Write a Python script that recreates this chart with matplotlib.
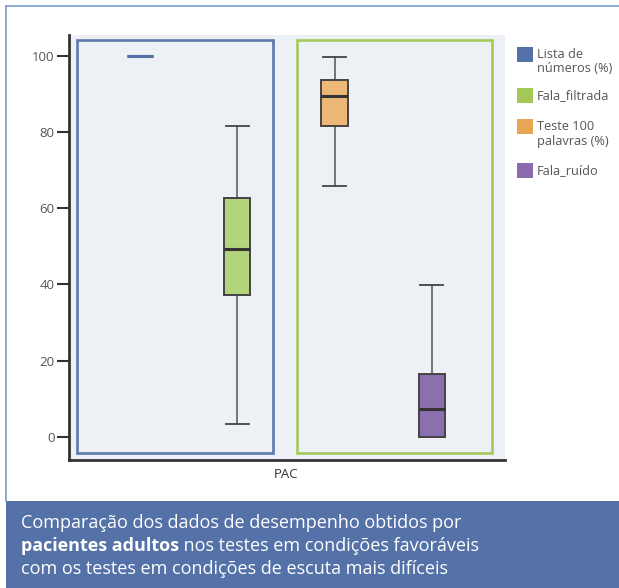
import matplotlib
matplotlib.use("Agg")
import matplotlib.pyplot as plt
from matplotlib.patches import Rectangle

# Series (percent scores)
series = ["Lista de\nnúmeros (%)", "Fala_filtrada", "Teste 100\npalavras (%)", "Fala_ruído"]
whisker_low = [100, 3.3, 65.8, 0]
q1 = [100, 37.3, 81.7, 0]
median = [100, 49.3, 89.4, 7.4]
q3 = [100, 62.6, 93.6, 16.4]
whisker_high = [100, 81.6, 99.8, 39.8]
y_ticks = [0, 20, 40, 60, 80, 100]
group_label = "PAC"
caption_lines = [
    [("Comparação dos dados de desempenho obtidos por", "normal")],
    [("pacientes adultos", "bold"), (" nos testes em condições favoráveis", "normal")],
    [("com os testes em condições de escuta mais difíceis", "normal")],
]

edge_colors = ["#5472a8", "#a3c855", "#e8a553", "#8a6cae"]
fill_colors = ["#5472a8", "#b2d47b", "#edb877", "#8a70ae"]

plt.rcParams["font.family"] = ["Open Sans", "DejaVu Sans"]

W, H = 619, 588
fig = plt.figure(figsize=(W / 100, H / 100), dpi=100)
fig.patch.set_facecolor("white")


def fx(px):
    return px / W


def fy(py):
    return 1 - py / H


# outer frame lines and caption band
fig.add_artist(plt.Line2D([fx(6), fx(619)], [fy(6), fy(6)], color="#7e9bcc", lw=1.2))
fig.add_artist(plt.Line2D([fx(6), fx(6)], [fy(6), fy(501)], color="#7e9bcc", lw=1.2))
fig.add_artist(Rectangle((fx(6), 0), fx(613), fy(501), facecolor="#5472a8",
                         edgecolor="none"))

ax = fig.add_axes([fx(69), fy(460), fx(505 - 69), (460 - 35) / H])
ax.set_facecolor("#edf0f5")

positions = list(range(len(series)))
stats = []
for i in positions:
    stats.append(dict(whislo=whisker_low[i], q1=q1[i], med=median[i],
                      q3=q3[i], whishi=whisker_high[i], fliers=[]))

art = ax.bxp(stats, positions=positions, widths=0.27, patch_artist=True,
             showfliers=False,
             boxprops=dict(edgecolor="#444444", linewidth=1.4),
             medianprops=dict(color="#333333", linewidth=2.2),
             whiskerprops=dict(color="#6a6a6a", linewidth=1.3),
             capprops=dict(color="#444444", linewidth=1.3),
             capwidths=0.24)

for i, box in enumerate(art["boxes"]):
    box.set_facecolor(fill_colors[i])
    box.set_zorder(3)
for m in art["medians"]:
    m.set_zorder(4)

# the constant series collapses to a single line drawn in its own colour
box0 = art["boxes"][0]
box0.set_edgecolor(edge_colors[0])
box0.set_linewidth(2.2)
art["medians"][0].set_color(edge_colors[0])
art["medians"][0].set_linewidth(2.2)
for c in art["caps"][0:2]:
    c.set_visible(False)
for w in art["whiskers"][0:2]:
    w.set_visible(False)

# group frames
ax.add_patch(Rectangle((-0.645, -4.26), 2.012, 108.56, fill=False,
                       edgecolor="#5d78ad", lw=1.9, zorder=2, clip_on=False))
ax.add_patch(Rectangle((1.614, -4.26), 2.005, 108.56, fill=False,
                       edgecolor="#a4c95a", lw=1.9, zorder=2, clip_on=False))

ax.set_xlim(-0.730, 3.753)
ax.set_ylim(-6.1, 105.5)
ax.set_yticks(y_ticks)
ax.set_yticklabels([str(v) for v in y_ticks], fontsize=9.5, color="#555555")
ax.set_xticks([1.5])
ax.set_xticklabels([group_label], fontsize=9.5, color="#333333")
ax.tick_params(axis="y", length=8.5, width=1.5, color="#333333", pad=2)
ax.tick_params(axis="x", length=0, pad=6)
for s in ["top", "right"]:
    ax.spines[s].set_visible(False)
for s in ["left", "bottom"]:
    ax.spines[s].set_color("#333333")
    ax.spines[s].set_linewidth(2.0)

# legend
legend_rows = [47, 88, 119, 163]
for i, name in enumerate(series):
    top = legend_rows[i]
    fig.add_artist(Rectangle((fx(517), fy(top + 15)), fx(16), 15 / H,
                             facecolor=edge_colors[i], edgecolor="none"))
    fig.text(fx(537), fy(top + 1), name, fontsize=9.2, color="#555555",
             va="top", ha="left", linespacing=1.15)

# caption
baselines = [528, 551, 574]
for line, base in zip(caption_lines, baselines):
    x = fx(21)
    for chunk, weight in line:
        t = fig.text(x, fy(base), chunk, fontsize=13.0, color="white",
                     fontweight=weight, va="baseline", ha="left")
        fig.canvas.draw()
        bb = t.get_window_extent()
        x = bb.x1 / W

fig.savefig("out.png", dpi=100)
